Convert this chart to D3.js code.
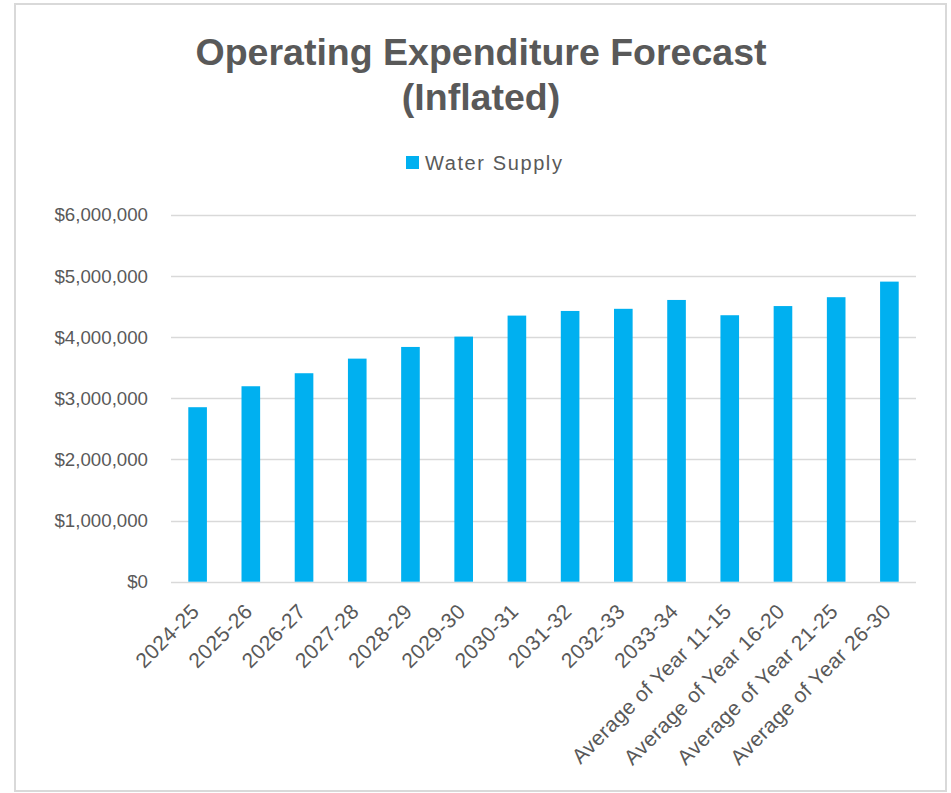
<!DOCTYPE html>
<html>
<head>
<meta charset="utf-8">
<script src="https://cdn.jsdelivr.net/npm/d3@7"></script>
<style>
  html, body { margin: 0; padding: 0; background: #fff; }
  svg { display: block; }
</style>
</head>
<body>
<svg id="chart" width="951" height="793"></svg>
<script>
// Operating expenditure forecast, inflated dollars
const categories = [
  "2024-25", "2025-26", "2026-27", "2027-28", "2028-29", "2029-30",
  "2030-31", "2031-32", "2032-33", "2033-34",
  "Average of Year 11-15", "Average of Year 16-20",
  "Average of Year 21-25", "Average of Year 26-30"
];
const waterSupply = [
  2855000, 3198000, 3411000, 3650000, 3841000, 4010000,
  4354000, 4430000, 4465000, 4610000,
  4360000, 4510000, 4655000, 4910000
];
const yTicks = [0, 1000000, 2000000, 3000000, 4000000, 5000000, 6000000];
const seriesName = "Water Supply";
const titleLines = ["Operating Expenditure Forecast", "(Inflated)"];

const W = 951, H = 793;
const margin = { left: 171, right: 35, top: 215, bottom: 211 };
const textColor = "#595959";
const barColor = "#00B0F0";
const gridColor = "#d9d9d9";
const font = "'Liberation Sans', Arial, sans-serif";

const svg = d3.select("#chart");

// chart frame
svg.append("rect")
  .attr("x", 15).attr("y", 4)
  .attr("width", 931).attr("height", 787)
  .attr("fill", "#fff")
  .attr("stroke", gridColor)
  .attr("stroke-width", 2);

const x = d3.scaleBand()
  .domain(categories)
  .range([margin.left, W - margin.right])
  .paddingInner(0.65)
  .paddingOuter(0.325);

const y = d3.scaleLinear()
  .domain([0, 6000000])
  .range([H - margin.bottom - 0.3, margin.top]);

// gridlines
svg.append("g")
  .selectAll("line")
  .data(yTicks)
  .join("line")
  .attr("x1", margin.left)
  .attr("x2", W - margin.right)
  .attr("y1", d => Math.round(y(d)) + 0.5)
  .attr("y2", d => Math.round(y(d)) + 0.5)
  .attr("stroke", gridColor)
  .attr("stroke-width", 1.5);

// y axis labels
const fmt = d => "$" + d3.format(",")(d);
const yAxis = d3.axisLeft(y).tickValues(yTicks).tickFormat(fmt).tickSize(0).tickPadding(23);
const yg = svg.append("g")
  .attr("transform", `translate(${margin.left},0)`)
  .call(yAxis);
yg.select(".domain").remove();
yg.selectAll("text")
  .attr("fill", textColor)
  .style("font-family", font)
  .style("font-size", "18.7px");

// bars
svg.append("g")
  .selectAll("rect")
  .data(categories)
  .join("rect")
  .attr("x", d => x(d))
  .attr("width", x.bandwidth())
  .attr("y", (d, i) => y(waterSupply[i]))
  .attr("height", (d, i) => y(0) - y(waterSupply[i]))
  .attr("fill", barColor);

// x axis labels, rotated
const xAxis = d3.axisBottom(x).tickSize(0).tickPadding(0);
const xg = svg.append("g")
  .attr("transform", `translate(0,${y(0)})`)
  .call(xAxis);
xg.select(".domain").remove();
xg.selectAll("text")
  .attr("fill", textColor)
  .style("font-family", font)
  .style("font-size", "21px")
  .style("letter-spacing", "0.4px")
  .attr("text-anchor", "end")
  .attr("dy", null)
  .attr("y", 0)
  .attr("transform", "translate(3,31) rotate(-45)");

// title
svg.append("g")
  .selectAll("text")
  .data(titleLines)
  .join("text")
  .attr("x", 481)
  .attr("y", (d, i) => 65 + i * 45)
  .attr("text-anchor", "middle")
  .attr("fill", textColor)
  .style("font-family", font)
  .style("font-weight", "bold")
  .style("font-size", "37.5px")
  .text(d => d);

// legend
const lg = svg.append("g");
lg.append("rect")
  .attr("x", 406).attr("y", 156)
  .attr("width", 13).attr("height", 13)
  .attr("fill", barColor);
lg.append("text")
  .attr("x", 425).attr("y", 170)
  .attr("fill", textColor)
  .style("font-family", font)
  .style("font-size", "20px")
  .style("letter-spacing", "1.6px")
  .text(seriesName);
</script>
</body>
</html>
